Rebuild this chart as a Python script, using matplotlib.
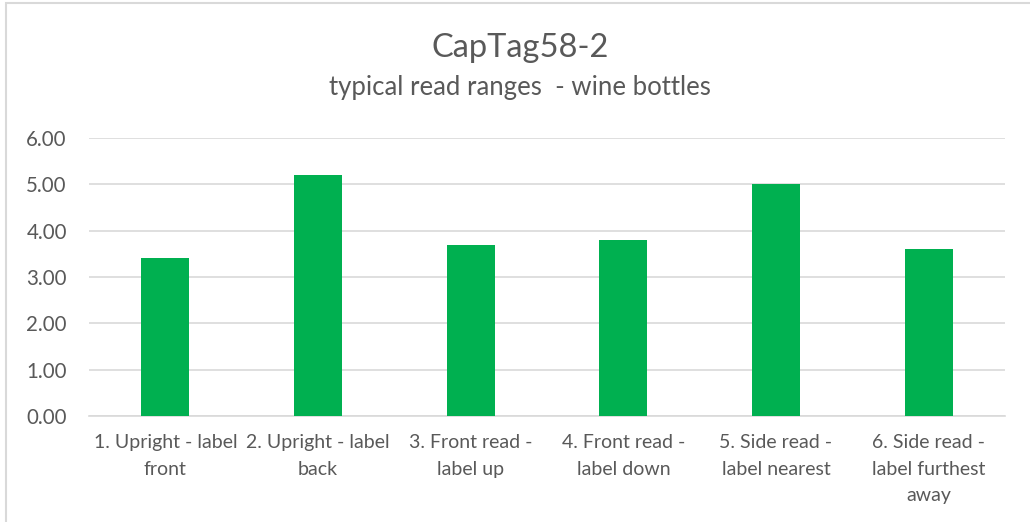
import matplotlib
matplotlib.use("Agg")
import matplotlib.pyplot as plt
from matplotlib.patches import Rectangle

categories = ["1. Upright - label\nfront", "2. Upright - label\nback", "3. Front read -\nlabel up",
              "4. Front read -\nlabel down", "5. Side read -\nlabel nearest", "6. Side read -\nlabel furthest\naway"]
values = [3.4, 5.2, 3.7, 3.8, 5.0, 3.6]
yticks = [0, 1, 2, 3, 4, 5, 6]

plt.rcParams['font.family'] = ['Lato', 'DejaVu Sans']
W, H = 1030, 522
fig = plt.figure(figsize=(W/100, H/100), dpi=100)
fig.patch.set_facecolor('white')
fig.add_artist(Rectangle((6/W, -0.1), 1.2, 1 - 3/H + 0.1, transform=fig.transFigure,
                         fill=False, edgecolor='#D9D9D9', linewidth=1.5))

ax = fig.add_axes([89/W, 1 - 416/H, (1005-89)/W, (416-138)/H])
x = range(len(categories))
ax.bar(x, values, width=0.315, color='#00B050', zorder=3)
ax.set_xlim(-0.5, 5.5)
ax.set_ylim(0, 6)
ax.set_yticks(yticks)
ax.set_yticklabels([f"{v:.2f}" for v in yticks], fontsize=14.8, color='#595959')
ax.set_xticks(list(x))
ax.set_xticklabels(categories, fontsize=14, color='#595959', linespacing=1.68)
ax.tick_params(length=0)
ax.tick_params(axis='x', pad=13)
ax.tick_params(axis='y', pad=16)
ax.grid(axis='y', color='#D9D9D9', linewidth=1.2, zorder=0)
for s in ['top', 'right', 'left']:
    ax.spines[s].set_visible(False)
ax.spines['bottom'].set_color('#D9D9D9')
ax.spines['bottom'].set_linewidth(1.2)

fig.text(520/W, 1 - 48/H, "CapTag58-2", ha='center', va='center', fontsize=23.5, color='#595959')
fig.text(520/W, 1 - 88/H, "typical read ranges  - wine bottles", ha='center', va='center', fontsize=18.5, color='#595959')

fig.savefig("out.png", dpi=100)
